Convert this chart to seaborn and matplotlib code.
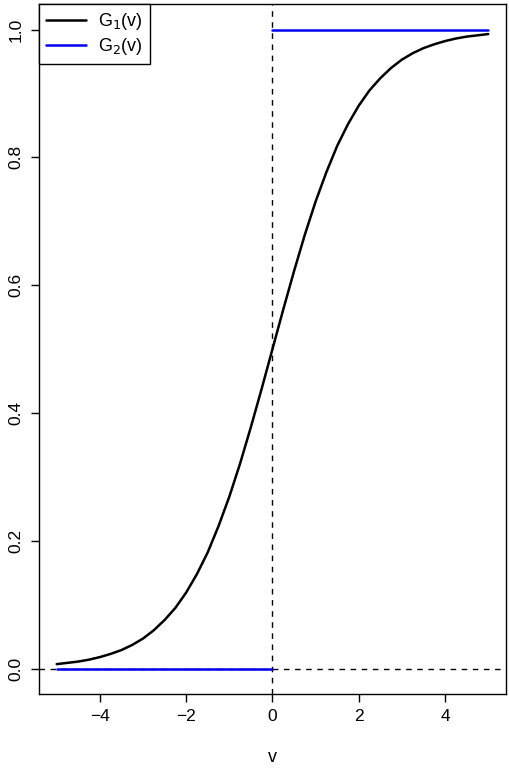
import numpy as np
import pandas as pd
import matplotlib
matplotlib.use('Agg')
import matplotlib.pyplot as plt
import seaborn as sb

# values, step 0.25
v_grid = [-5.0, -4.75, -4.5, -4.25, -4.0, -3.75, -3.5, -3.25, -3.0, -2.75,
          -2.5, -2.25, -2.0, -1.75, -1.5, -1.25, -1.0, -0.75, -0.5, -0.25,
          0.0, 0.25, 0.5, 0.75, 1.0, 1.25, 1.5, 1.75, 2.0, 2.25,
          2.5, 2.75, 3.0, 3.25, 3.5, 3.75, 4.0, 4.25, 4.5, 4.75, 5.0]
g1_vals = [0.007, 0.009, 0.011, 0.014, 0.018, 0.023, 0.029, 0.037, 0.047, 0.060,
           0.076, 0.095, 0.119, 0.148, 0.182, 0.223, 0.269, 0.321, 0.378, 0.438,
           0.500, 0.562, 0.622, 0.679, 0.731, 0.777, 0.818, 0.852, 0.881, 0.905,
           0.924, 0.940, 0.953, 0.963, 0.971, 0.977, 0.982, 0.986, 0.989, 0.991, 0.993]

g2_left_v = [-5.0, 0.0]
g2_left = [0.0, 0.0]
g2_right_v = [0.0, 5.0]
g2_right = [1.0, 1.0]

xticks = [-4, -2, 0, 2, 4]
yticks = [0.0, 0.2, 0.4, 0.6, 0.8, 1.0]

sb.set_style('ticks')
plt.rcParams['font.family'] = ['Liberation Sans', 'DejaVu Sans']
plt.rcParams['text.color'] = 'black'
plt.rcParams['axes.labelcolor'] = 'black'
plt.rcParams['xtick.color'] = 'black'
plt.rcParams['ytick.color'] = 'black'
plt.rcParams['axes.edgecolor'] = 'black'

fig = plt.figure(figsize=(5.1, 7.73), dpi=100)
ax = fig.add_axes([0.0765, 0.102, 0.9155, 0.8928])

df1 = pd.DataFrame({'v': v_grid, 'G': g1_vals})
sb.lineplot(data=df1, x='v', y='G', color='black', lw=1.8, ax=ax, label='G$_1$(v)')

ax.axvline(0, color='black', lw=1, ls=(0, (4, 4)))
ax.axhline(0, color='black', lw=1, ls=(0, (4, 4)))

dfl = pd.DataFrame({'v': g2_left_v, 'G': g2_left})
dfr = pd.DataFrame({'v': g2_right_v, 'G': g2_right})
sb.lineplot(data=dfl, x='v', y='G', color='#0000EE', lw=1.8, ax=ax, label='G$_2$(v)')
sb.lineplot(data=dfr, x='v', y='G', color='#0000EE', lw=1.8, ax=ax)

ax.set_xlim(-5.41, 5.41)
ax.set_ylim(-0.04, 1.04)
ax.set_xticks(xticks)
ax.set_xticklabels(['\u22124', '\u22122', '0', '2', '4'])
ax.set_yticks(yticks)
ax.set_yticklabels(['0.0', '0.2', '0.4', '0.6', '0.8', '1.0'], rotation=90, va='center')
ax.tick_params(labelsize=12.5, length=6, width=1, pad=5)
ax.set_xlabel('v', fontsize=13, labelpad=18)
ax.set_ylabel('')
for s in ax.spines.values():
    s.set_linewidth(1)
    s.set_visible(True)

leg = ax.legend(loc='upper left', borderaxespad=0, fontsize=13, fancybox=False,
                framealpha=1, edgecolor='black', handlelength=2.2,
                handletextpad=0.65, labelspacing=0.2, borderpad=0.4)
leg.get_frame().set_linewidth(1)

fig.savefig('out.png', dpi=100)
